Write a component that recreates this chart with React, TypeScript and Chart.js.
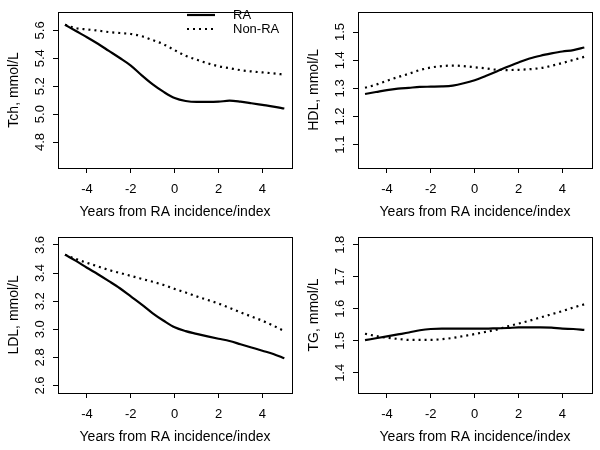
import React, { useEffect, useRef } from "react";
import { Chart, registerables } from "chart.js";

Chart.register(...registerables);

// ---------- data ----------
const years = [-5, -4.5, -4, -3.5, -3, -2.5, -2, -1.5, -1, -0.5, 0, 0.5, 1, 1.5, 2, 2.5, 3, 3.5, 4, 4.5, 5];

const seriesNames = ["RA", "Non-RA"];
const xTitle = "Years from RA incidence/index";
const xTicks = [-4, -2, 0, 2, 4];

const tchRA = [5.640, 5.595, 5.551, 5.504, 5.453, 5.402, 5.348, 5.278, 5.213, 5.159, 5.115, 5.094, 5.087, 5.087, 5.089, 5.096, 5.089, 5.078, 5.066, 5.054, 5.040];
const tchNonRA = [5.640, 5.616, 5.607, 5.598, 5.588, 5.581, 5.574, 5.558, 5.530, 5.500, 5.458, 5.418, 5.390, 5.364, 5.343, 5.329, 5.315, 5.306, 5.299, 5.292, 5.283];
const tchTicks = [4.8, 5.0, 5.2, 5.4, 5.6];

const hdlRA = [1.280, 1.287, 1.294, 1.299, 1.302, 1.305, 1.306, 1.307, 1.310, 1.318, 1.329, 1.344, 1.360, 1.377, 1.392, 1.406, 1.416, 1.424, 1.431, 1.436, 1.445];
const hdlNonRA = [1.302, 1.313, 1.327, 1.340, 1.352, 1.365, 1.374, 1.379, 1.381, 1.379, 1.375, 1.371, 1.366, 1.365, 1.366, 1.368, 1.372, 1.380, 1.390, 1.401, 1.412];
const hdlTicks = [1.1, 1.2, 1.3, 1.4, 1.5];

const ldlRA = [3.531, 3.487, 3.438, 3.392, 3.343, 3.292, 3.234, 3.176, 3.114, 3.061, 3.014, 2.987, 2.968, 2.950, 2.933, 2.917, 2.894, 2.871, 2.848, 2.825, 2.794];
const ldlNonRA = [3.531, 3.500, 3.473, 3.447, 3.422, 3.401, 3.380, 3.359, 3.338, 3.315, 3.287, 3.262, 3.234, 3.209, 3.183, 3.153, 3.121, 3.091, 3.061, 3.026, 2.987];
const ldlTicks = [2.6, 2.8, 3.0, 3.2, 3.4, 3.6];

const tgRA = [1.502, 1.508, 1.514, 1.520, 1.526, 1.533, 1.537, 1.538, 1.538, 1.538, 1.538, 1.538, 1.539, 1.540, 1.542, 1.542, 1.542, 1.541, 1.538, 1.537, 1.534];
const tgNonRA = [1.522, 1.515, 1.510, 1.506, 1.503, 1.503, 1.503, 1.505, 1.509, 1.515, 1.521, 1.528, 1.535, 1.545, 1.554, 1.563, 1.573, 1.583, 1.593, 1.604, 1.614];
const tgTicks = [1.4, 1.5, 1.6, 1.7, 1.8];

// ---------- styling ----------
const FONT = "'Liberation Sans', Arial, Helvetica, sans-serif";
const W = 300;
const H = 225;

const boxPlugin = {
  id: "rBox",
  afterDraw(chart: any) {
    const { ctx, chartArea } = chart;
    ctx.save();
    ctx.strokeStyle = "#000";
    ctx.lineWidth = 1;
    ctx.strokeRect(
      Math.round(chartArea.left) + 0.5,
      Math.round(chartArea.top) + 0.5,
      Math.round(chartArea.right - chartArea.left),
      Math.round(chartArea.bottom - chartArea.top)
    );
    ctx.restore();
  },
};

const legendPlugin = {
  id: "rLegend",
  afterDraw(chart: any, _args: any, opts: any) {
    if (!opts || !opts.show) return;
    const ctx = chart.ctx;
    chart.data.datasets.forEach((ds: any, i: number) => {
      const y = opts.top + i * opts.rowGap;
      ctx.save();
      ctx.strokeStyle = ds.borderColor;
      ctx.lineWidth = ds.borderWidth;
      ctx.lineCap = "butt";
      ctx.setLineDash(ds.borderDash || []);
      ctx.beginPath();
      ctx.moveTo(opts.x0, y);
      ctx.lineTo(opts.x1, y);
      ctx.stroke();
      ctx.setLineDash([]);
      ctx.fillStyle = "#000";
      ctx.font = `13px ${FONT}`;
      ctx.textBaseline = "middle";
      ctx.textAlign = "left";
      ctx.fillText(ds.label, opts.textX, y);
      ctx.restore();
    });
  },
};

type PanelProps = {
  ra: number[];
  nonRa: number[];
  yTicks: number[];
  yMin: number;
  yMax: number;
  yTitle: string;
  legend?: boolean;
  left: number;
  top: number;
};

function Panel({ ra, nonRa, yTicks, yMin, yMax, yTitle, legend, left, top }: PanelProps) {
  const ref = useRef<HTMLCanvasElement | null>(null);
  useEffect(() => {
    if (!ref.current) return;
    const chart = new Chart(ref.current, {
      type: "line",
      data: {
        datasets: [
          {
            label: seriesNames[0],
            data: years.map((x, i) => ({ x, y: ra[i] })),
            borderColor: "#000",
            borderWidth: 2.2,
            pointRadius: 0,
            cubicInterpolationMode: "monotone",
            fill: false,
          },
          {
            label: seriesNames[1],
            data: years.map((x, i) => ({ x, y: nonRa[i] })),
            borderColor: "#000",
            borderWidth: 2.2,
            borderDash: [2, 4],
            borderCapStyle: "butt",
            pointRadius: 0,
            cubicInterpolationMode: "monotone",
            fill: false,
          },
        ],
      } as any,
      options: {
        responsive: false,
        animation: false,
        devicePixelRatio: 1,
        events: [],
        layout: { padding: { left: 0, top: 8, right: 8, bottom: 0 } },
        plugins: {
          legend: { display: false },
          tooltip: { enabled: false },
          rLegend: { show: !!legend, x0: 187, x1: 215, textX: 233, top: 15, rowGap: 14 },
        } as any,
        scales: {
          x: {
            type: "linear",
            min: -5.32,
            max: 5.35,
            afterBuildTicks: (axis: any) => {
              axis.ticks = xTicks.map((v) => ({ value: v }));
            },
            afterFit: (axis: any) => {
              axis.height = 57;
            },
            grid: { drawOnChartArea: false, drawTicks: true, tickLength: 5, color: "#000", lineWidth: 1 },
            border: { display: false },
            ticks: {
              color: "#000",
              font: { family: FONT, size: 13 },
              padding: 9,
              maxRotation: 0,
              autoSkip: false,
              callback: (v: any) => String(v),
            },
            title: {
              display: true,
              text: xTitle,
              color: "#000",
              font: { family: FONT, size: 14 },
              padding: { top: 0, bottom: 4 },
            },
          },
          y: {
            type: "linear",
            min: yMin,
            max: yMax,
            afterBuildTicks: (axis: any) => {
              axis.ticks = yTicks.map((v) => ({ value: v }));
            },
            afterFit: (axis: any) => {
              axis.width = 58;
            },
            grid: { drawOnChartArea: false, drawTicks: true, tickLength: 5, color: "#000", lineWidth: 1 },
            border: { display: false },
            ticks: {
              color: "#000",
              font: { family: FONT, size: 13 },
              padding: 4,
              minRotation: 90,
              maxRotation: 90,
              crossAlign: "center",
              autoSkip: false,
              callback: (v: any) => Number(v).toFixed(1),
            },
            title: {
              display: true,
              text: yTitle,
              color: "#000",
              font: { family: FONT, size: 14 },
              padding: { top: 6, bottom: 0 },
            },
          },
        },
      } as any,
      plugins: [boxPlugin, legendPlugin],
    });
    return () => chart.destroy();
  }, []);
  return (
    <canvas
      ref={ref}
      width={W}
      height={H}
      style={{ position: "absolute", left, top, width: W, height: H, display: "block" }}
    />
  );
}

export default function App() {
  return (
    <div style={{ position: "absolute", left: 0, top: 0, width: 600, height: 450, background: "#fff" }}>
      <Panel ra={tchRA} nonRa={tchNonRA} yTicks={tchTicks} yMin={4.614} yMax={5.733} yTitle="Tch, mmol/L" legend left={0} top={0} />
      <Panel ra={hdlRA} nonRa={hdlNonRA} yTicks={hdlTicks} yMin={1.017} yMax={1.572} yTitle="HDL, mmol/L" left={300} top={0} />
      <Panel ra={ldlRA} nonRa={ldlNonRA} yTicks={ldlTicks} yMin={2.547} yMax={3.658} yTitle="LDL, mmol/L" left={0} top={225} />
      <Panel ra={tgRA} nonRa={tgNonRA} yTicks={tgTicks} yMin={1.337} yMax={1.825} yTitle="TG, mmol/L" left={300} top={225} />
    </div>
  );
}
